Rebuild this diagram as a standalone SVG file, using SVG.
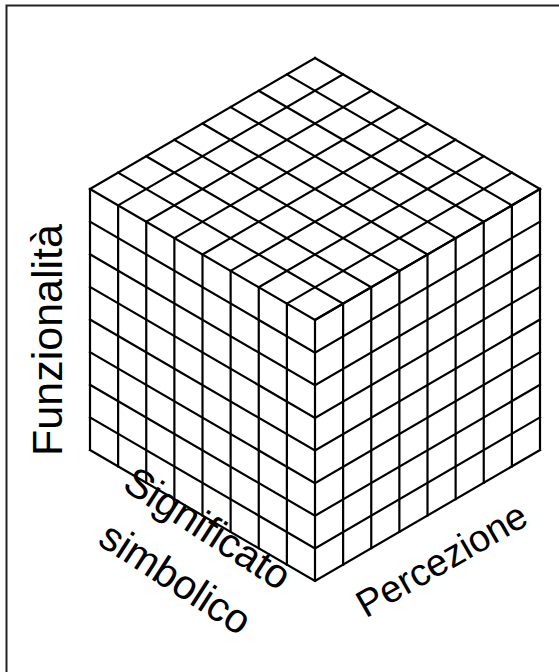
<svg xmlns="http://www.w3.org/2000/svg" width="559" height="672" viewBox="0 0 559 672">
<style>
.g{fill:none;stroke:#000;stroke-width:2.2;stroke-linejoin:miter;stroke-linecap:square}
.t{font-family:"Liberation Sans",Arial,sans-serif;font-size:41px;fill:#000}
</style>
<rect width="559" height="672" fill="#fff"/>
<path d="M6.5,680 V5.5 H570" fill="none" stroke="#222" stroke-width="2"/>
<g id="cube">
<path class="g" d="M90,189V450 M118.125,205.375V466.375 M146.25,221.75V482.75 M174.375,238.125V499.125 M202.5,254.5V515.5 M230.625,270.875V531.875 M258.75,287.25V548.25 M286.875,303.625V564.625 M315,320V581 M343.125,303.625V564.625 M371.25,287.25V548.25 M399.375,270.875V531.875 M427.5,254.5V515.5 M455.625,238.125V499.125 M483.75,221.75V482.75 M511.875,205.375V466.375 M540,189V450"/>
<path class="g" d="M90,189L315,320L540,189 M90,221.625L315,352.625L540,221.625 M90,254.25L315,385.25L540,254.25 M90,286.875L315,417.875L540,286.875 M90,319.5L315,450.5L540,319.5 M90,352.125L315,483.125L540,352.125 M90,384.75L315,515.75L540,384.75 M90,417.375L315,548.375L540,417.375 M90,450L315,581L540,450"/>
<path class="g" d="M315,58L90,189 M343.125,74.375L118.125,205.375 M371.25,90.75L146.25,221.75 M399.375,107.125L174.375,238.125 M427.5,123.5L202.5,254.5 M455.625,139.875L230.625,270.875 M483.75,156.25L258.75,287.25 M511.875,172.625L286.875,303.625 M540,189L315,320"/>
<path class="g" d="M315,58L540,189 M286.875,74.375L511.875,205.375 M258.75,90.75L483.75,221.75 M230.625,107.125L455.625,238.125 M202.5,123.5L427.5,254.5 M174.375,139.875L399.375,270.875 M146.25,156.25L371.25,287.25 M118.125,172.625L343.125,303.625"/>
</g>
<g id="labels">
<text class="t" style="font-size:43px" text-anchor="middle" transform="translate(62,340) rotate(-90)">Funzionalità</text>
<text class="t" text-anchor="middle" transform="translate(200,540) rotate(33)">Significato</text>
<text class="t" text-anchor="middle" transform="translate(168,590) rotate(33)">simbolico</text>
<text class="t" style="font-size:38px" text-anchor="middle" transform="translate(448,571) rotate(-30)">Percezione</text>
</g>
</svg>
